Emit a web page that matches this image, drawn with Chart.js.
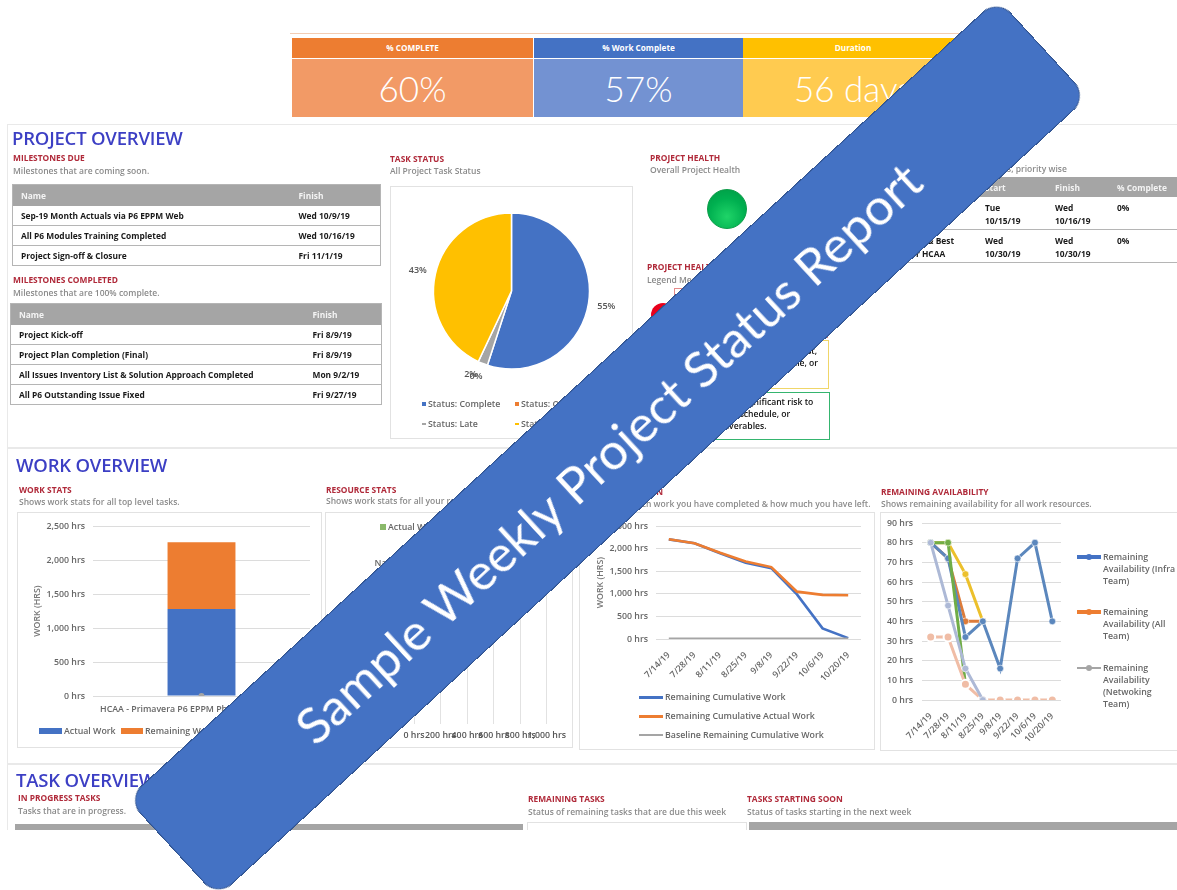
<!DOCTYPE html>
<html>
<head>
<meta charset="utf-8">
<title>Sample Weekly Project Status Report</title>
<script src="https://cdn.jsdelivr.net/npm/chart.js@4"></script>
<style>
html,body{margin:0;padding:0;background:#fff;overflow:hidden}
body{width:1177px;height:890px;position:relative;font-family:"Open Sans",sans-serif}
#page{position:absolute;left:0;top:0;width:1177px;height:830px;overflow:hidden;filter:blur(.6px)}
#page div,#page canvas,#page table{position:absolute}
.t{white-space:nowrap;line-height:12px;font-size:8.6px;color:#111;font-weight:600}
.h1{font-size:18.5px;line-height:22px;color:#3c3fc4;font-weight:600;white-space:nowrap;letter-spacing:-.2px}
.h2{font-size:8.4px;line-height:12px;color:#b02a3a;font-weight:700;white-space:nowrap}
.sub{font-size:8.5px;line-height:12px;color:#8a8a8a;font-weight:600;white-space:nowrap}
.lg{font-size:8.8px;line-height:12px;color:#666;font-weight:600;white-space:nowrap}
.box{border:1px solid #e2e2e2;background:#fff;box-sizing:border-box}
.rule{background:#e9e9e9}
.kh{color:#fff;font-size:8.2px;font-weight:700;text-align:center;line-height:20px;height:20px}
.kb{color:#fff;font-family:Lato,sans-serif;font-weight:300;font-size:35px;text-align:center;line-height:58px;height:58px}
table{border-collapse:collapse;table-layout:fixed;font-size:8.4px;font-weight:700;color:#1a1a1a}
table th{background:#a5a5a5;color:#f4f4f4;font-weight:700;text-align:left;padding:0 0 0 8px}
table td{padding:0 0 0 8px;border-bottom:1px solid #b5b5b5;white-space:nowrap}
#tblUp table{border-width:0 !important}
#tblUp td{vertical-align:top;padding-top:5px;line-height:12.7px;box-sizing:border-box}
#tblUp td:first-child{padding-left:50px}
#banner{position:absolute;left:16px;top:380.5px;width:1183px;height:134px;box-sizing:border-box;padding-right:6px;background:#4472c4;border:1px solid #2f528f;border-radius:20px;transform:rotate(-42.6deg);color:#fff;font-family:Lato,sans-serif;font-size:51px;line-height:140px;text-align:center;white-space:nowrap}
</style>
</head>
<body>
<div id="page">
  <div style="left:290px;top:33px;width:670px;height:1px;background:#f3cdb4"></div>
  <div class="kh" style="left:292px;top:38px;width:241px;background:#ed7d31">% COMPLETE</div>
  <div class="kb" style="left:292px;top:59px;width:241px;background:#f29a66">60%</div>
  <div class="kh" style="left:534px;top:38px;width:209px;background:#4472c4">% Work Complete</div>
  <div class="kb" style="left:534px;top:59px;width:209px;background:#7392d2">57%</div>
  <div class="kh" style="left:743px;top:38px;width:220px;background:#ffc000">Duration</div>
  <div class="kb" style="left:743px;top:59px;width:220px;background:#ffcb50">56 days</div>

  <div class="rule" style="left:7px;top:124px;width:1170px;height:1px"></div>
  <div class="rule" style="left:7px;top:124px;width:1px;height:706px"></div>
  <div class="rule" style="left:7px;top:447px;width:1170px;height:2px"></div>
  <div class="rule" style="left:7px;top:763px;width:1170px;height:2px"></div>

  <div class="h1" style="left:12px;top:127px">PROJECT OVERVIEW</div>
  <div class="h2" style="left:13px;top:152px">MILESTONES DUE</div>
  <div class="sub" style="left:13px;top:165px">Milestones that are coming soon.</div>
  <div id="tblDue"></div>
  <div class="h2" style="left:13px;top:274px">MILESTONES COMPLETED</div>
  <div class="sub" style="left:13px;top:287px">Milestones that are 100% complete.</div>
  <div id="tblDone"></div>

  <div class="h2" style="left:390px;top:153px">TASK STATUS</div>
  <div class="sub" style="left:390px;top:165px">All Project Task Status</div>
  <div class="box" style="left:390px;top:186px;width:243px;height:253px"></div>
  <canvas id="pieChart" width="241" height="251" style="left:391px;top:187px"></canvas>

  <div class="h2" style="left:650px;top:152px">PROJECT HEALTH</div>
  <div class="sub" style="left:650px;top:164px">Overall Project Health</div>
  <div style="left:707px;top:189px;width:40px;height:40px;border-radius:50%;background:radial-gradient(circle at 50% 70%,#1fd468 0,#00b050 55%,#009a45 100%);border:1px solid #0c9c48;box-sizing:border-box"></div>
  <div class="h2" style="left:647px;top:261px">PROJECT HEALTH LEGEND</div>
  <div class="sub" style="left:647px;top:274px">Legend Meaning</div>
  <div style="left:651px;top:303px;width:24px;height:24px;border-radius:50%;background:#e8001c"></div>
  <div style="left:674px;top:288px;width:154px;height:50px;border:1px solid #e58a8a;box-sizing:border-box;background:#fff"></div>
  <div style="left:674px;top:340px;width:155px;height:49px;border:1px solid #f0d668;box-sizing:border-box;background:#fff"></div>
  <div class="t" style="left:744px;top:345px">Some risk to cost,</div>
  <div class="t" style="left:744px;top:357px">time, schedule, or</div>
  <div style="left:674px;top:392px;width:156px;height:48px;border:1px solid #35b56f;box-sizing:border-box;background:#fff"></div>
  <div class="t" style="left:728px;top:396px">No significant risk to</div>
  <div class="t" style="left:718px;top:408px">cost, schedule, or</div>
  <div class="t" style="left:714px;top:420px">deliverables.</div>

  <div class="sub" style="left:946px;top:163px">Upcoming tasks, priority wise</div>
  <div id="tblUp"></div>

  <div class="h1" style="left:16px;top:454px">WORK OVERVIEW</div>
  <div class="h2" style="left:19px;top:484px">WORK STATS</div>
  <div class="sub" style="left:19px;top:496px">Shows work stats for all top level tasks.</div>
  <div class="box" style="left:17px;top:512px;width:305px;height:236px"></div>
  <canvas id="workChart" width="303" height="234" style="left:18px;top:513px"></canvas>

  <div class="h2" style="left:326px;top:484px">RESOURCE STATS</div>
  <div class="sub" style="left:326px;top:495px">Shows work stats for all your resources.</div>
  <div class="box" style="left:325px;top:512px;width:248px;height:236px"></div>
  <canvas id="resChart" width="246" height="234" style="left:326px;top:513px"></canvas>

  <div class="h2" style="left:583px;top:486px">WORK BURNDOWN</div>
  <div class="sub" style="left:580px;top:498px">Shows how much work you have completed &amp; how much you have left.</div>
  <div class="box" style="left:579px;top:512px;width:296px;height:238px"></div>
  <canvas id="burnChart" width="294" height="236" style="left:580px;top:513px"></canvas>

  <div class="h2" style="left:881px;top:486px">REMAINING AVAILABILITY</div>
  <div class="sub" style="left:881px;top:498px">Shows remaining availability for all work resources.</div>
  <div class="box" style="left:880px;top:512px;width:300px;height:239px"></div>
  <canvas id="availChart" width="297" height="237" style="left:881px;top:513px"></canvas>

  <div class="h1" style="left:16px;top:769px">TASK OVERVIEW</div>
  <div class="h2" style="left:18px;top:792px">IN PROGRESS TASKS</div>
  <div class="sub" style="left:18px;top:805px">Tasks that are in progress.</div>
  <div style="left:15px;top:824px;width:508px;height:6px;background:#a5a5a5"></div>
  <div class="h2" style="left:528px;top:793px">REMAINING TASKS</div>
  <div class="sub" style="left:528px;top:806px">Status of remaining tasks that are due this week</div>
  <div class="box" style="left:527px;top:822px;width:220px;height:12px"></div>
  <div class="h2" style="left:747px;top:793px">TASKS STARTING SOON</div>
  <div class="sub" style="left:747px;top:806px">Status of tasks starting in the next week</div>
  <div style="left:749px;top:822px;width:428px;height:8px;background:#a5a5a5"></div>
</div>
<div id="banner">Sample Weekly Project Status Report</div>

<script>
var dueRows = [
  ["Sep-19 Month Actuals via P6 EPPM Web", "Wed 10/9/19"],
  ["All P6 Modules Training Completed", "Wed 10/16/19"],
  ["Project Sign-off & Closure", "Fri 11/1/19"]
];
var doneRows = [
  ["Project Kick-off", "Fri 8/9/19"],
  ["Project Plan Completion (Final)", "Fri 8/9/19"],
  ["All Issues Inventory List & Solution Approach Completed", "Mon 9/2/19"],
  ["All P6 Outstanding Issue Fixed", "Fri 9/27/19"]
];
var upRows = [
  ["", "Tue<br>10/15/19", "Wed<br>10/16/19", "0%"],
  ["Practices & Best<br>Plan for HCAA", "Wed<br>10/30/19", "Wed<br>10/30/19", "0%"]
];

var statusNames = ["Status: Complete", "Status: On Schedule", "Status: Late", "Status: Future Task"];
var statusValues = [55, 0, 2, 43];
var statusColors = ["#4472c4", "#ed7d31", "#a5a5a5", "#ffc000"];

var workProject = ["HCAA - Primavera P6 EPPM Phase-1 Rollout Plan"];
var workActual = [1280];
var workRemaining = [985];
var workBaseline = [0];
var workTicks = [0, 500, 1000, 1500, 2000, 2500];

var resNames = ["Name", "", "", ""];
var resActual = [600, null, null, null];

var dates = ["7/14/19", "7/28/19", "8/11/19", "8/25/19", "9/8/19", "9/22/19", "10/6/19", "10/20/19"];
var burnWork = [2210, 2125, 1900, 1690, 1570, 990, 235, 20];
var burnActual = [2213, 2125, 1912, 1720, 1595, 1050, 978, 970];
var burnBaseline = [0, 0, 0, 0, 0, 0, 0, 0];

var availInfra = [80, 72, 32, 40, 16, 72, 80, 40];
var availAll = [80, 72, 40, 40, null, null, null, null];
var availNet = [80, 48, 16, 0, null, null, null, null];
var availYellow = [80, 80, 64, 40, null, null, null, null];
var availGreen = [80, 80, 8, null, null, null, null, null];
var availPink = [32, 32, 8, 0, 0, 0, 0, 0];

var page = document.getElementById("page");
Chart.defaults.font.family = "'Open Sans', sans-serif";
Chart.defaults.font.size = 8.8;
Chart.defaults.font.weight = 600;
Chart.defaults.color = "#666";
Chart.defaults.animation = false;
Chart.defaults.responsive = false;
Chart.defaults.plugins.legend.display = false;
Chart.defaults.plugins.tooltip.enabled = false;

function hrs(v) { return v.toLocaleString("en-US") + " hrs"; }

function table(host, x, y, widths, heads, rows, headH, rowH) {
  var html = '<table style="left:' + x + 'px;top:' + y + 'px;width:' + widths.reduce(function (a, b) { return a + b; }) + 'px;border:1px solid #b5b5b5"><colgroup>';
  widths.forEach(function (w) { html += '<col style="width:' + w + 'px">'; });
  html += '</colgroup><tr style="height:' + headH + 'px">';
  heads.forEach(function (h) { html += "<th>" + h + "</th>"; });
  html += "</tr>";
  rows.forEach(function (r) {
    html += '<tr style="height:' + rowH + 'px">';
    r.forEach(function (c) { html += "<td>" + String(c).replace(/& /g, "&amp; ") + "</td>"; });
    html += "</tr>";
  });
  document.getElementById(host).innerHTML = html + "</table>";
}
table("tblDue", 12, 184, [278, 90], ["Name", "Finish"], dueRows, 21, 20);
table("tblDone", 10, 303, [294, 77], ["Name", "Finish"], doneRows, 21, 20);
table("tblUp", 837, 177, [140, 70, 62, 68], ["Name", "Start", "Finish", "% Complete"], upRows, 20, 32.5);

// legend pieces are plain text + a small swatch
function legendItem(text, color, x, y, w, h, dot) {
  var s = document.createElement("div");
  s.style.cssText = "left:" + x + "px;top:" + (y - h / 2) + "px;width:" + w + "px;height:" + h + "px;background:" + color;
  page.appendChild(s);
  if (dot) {
    var d = document.createElement("div");
    d.style.cssText = "left:" + (x + w / 2 - 3) + "px;top:" + (y - 3) + "px;width:6px;height:6px;border-radius:50%;background:" + color;
    page.appendChild(d);
  }
  var t = document.createElement("div");
  t.className = "lg";
  t.style.left = (x + w + 2) + "px";
  t.style.top = (y - 6) + "px";
  t.innerHTML = text;
  page.appendChild(t);
}

var pieLabels = {
  id: "pieLabels",
  afterDatasetsDraw: function (chart) {
    var ctx = chart.ctx;
    ctx.save();
    ctx.font = "600 9px 'Open Sans'";
    ctx.fillStyle = "#555";
    ctx.textAlign = "center";
    ctx.textBaseline = "middle";
    chart.getDatasetMeta(0).data.forEach(function (arc, i) {
      var p = arc.getProps(["x", "y", "startAngle", "endAngle", "outerRadius"]);
      var a = (p.startAngle + p.endAngle) / 2;
      var small = statusValues[i] < 5;
      var r = p.outerRadius + (small ? 14 : 18);
      ctx.fillText(statusValues[i] + "%", p.x + Math.cos(a) * r - (small ? 7 : 0), p.y + Math.sin(a) * r - (small ? 2 : 0));
    });
    ctx.restore();
  }
};
new Chart(document.getElementById("pieChart"), {
  type: "pie",
  data: { labels: statusNames, datasets: [{ data: statusValues, backgroundColor: statusColors, borderColor: "#fff", borderWidth: 1.5 }] },
  options: { radius: 78, layout: { padding: { bottom: 43, top: 0 } } },
  plugins: [pieLabels]
});
legendItem(statusNames[0], statusColors[0], 422, 404, 4, 4);
legendItem(statusNames[1], statusColors[1], 515, 404, 4, 4);
legendItem(statusNames[2], statusColors[2], 422, 424, 4, 2);
legendItem(statusNames[3], statusColors[3], 515, 424, 4, 2);

function hrsScale(width, title) {
  return {
    min: 0, max: 2500,
    afterFit: function (s) { s.width = width; },
    afterBuildTicks: function (s) { s.ticks = workTicks.map(function (v) { return { value: v }; }); },
    grid: { color: "#dcdcdc", drawTicks: false },
    border: { display: false },
    ticks: { padding: 8, callback: hrs },
    title: { display: true, text: title, padding: 0, color: "#777" }
  };
}

new Chart(document.getElementById("workChart"), {
  data: {
    labels: workProject,
    datasets: [
      { type: "line", label: "Baseline Work", data: workBaseline, pointRadius: 3, pointBackgroundColor: "#a5a5a5", pointBorderColor: "#a5a5a5", borderWidth: 0 },
      { type: "bar", label: "Actual Work", data: workActual, backgroundColor: "#4472c4", stack: "w" },
      { type: "bar", label: "Remaining Work", data: workRemaining, backgroundColor: "#ed7d31", stack: "w" }
    ]
  },
  options: {
    layout: { padding: { top: 12, right: 11, bottom: 30, left: 14 } },
    scales: {
      x: { stacked: true, grid: { display: false }, border: { display: false }, ticks: { autoSkip: false, maxRotation: 0, padding: 0 }, afterFit: function (s) { s.height = 21; } },
      y: Object.assign(hrsScale(61, "WORK (HRS)"), { stacked: true })
    },
    datasets: { bar: { barPercentage: 0.313, categoryPercentage: 1 } }
  }
});
legendItem("Actual Work", "#4472c4", 39, 731, 23, 6);
legendItem("Remaining Work", "#ed7d31", 121, 731, 22, 6);

new Chart(document.getElementById("resChart"), {
  type: "bar",
  data: { labels: resNames, datasets: [{ label: "Actual Work", data: resActual, backgroundColor: "#70ad47" }] },
  options: {
    indexAxis: "y",
    layout: { padding: { top: 27, right: 14, bottom: 0 } },
    scales: {
      x: {
        min: 0, max: 1000,
        grid: { color: "#e2e2e2", drawTicks: false },
        border: { display: false },
        ticks: { stepSize: 200, maxRotation: 0, autoSkip: false, padding: 6, callback: hrs, color: "#555" },
        afterFit: function (s) { s.height = 23; }
      },
      y: { grid: { display: false }, border: { display: false }, ticks: { padding: 6 }, afterFit: function (s) { s.width = 88; } }
    }
  }
});
legendItem("Actual Work", "#8ab96a", 380, 527, 6, 6);

function dateScale() {
  return {
    offset: true,
    grid: { display: false },
    border: { display: false },
    ticks: { minRotation: 45, maxRotation: 45, autoSkip: false, padding: 3 }
  };
}

new Chart(document.getElementById("burnChart"), {
  type: "line",
  data: {
    labels: dates,
    datasets: [
      { label: "Remaining Cumulative Work", data: burnWork, borderColor: "#4472c4", borderWidth: 2.6, pointRadius: 0, tension: 0, order: 2 },
      { label: "Remaining Cumulative Actual Work", data: burnActual, borderColor: "#ed7d31", borderWidth: 2.6, pointRadius: 0, tension: 0, order: 1 },
      { label: "Baseline Remaining Cumulative Work", data: burnBaseline, borderColor: "#a5a5a5", borderWidth: 3, pointRadius: 0, tension: 0, order: 0 }
    ]
  },
  options: {
    layout: { padding: { top: 12, right: 13, bottom: 0, left: 15 } },
    scales: {
      x: Object.assign(dateScale(), { afterFit: function (s) { s.height = 110; } }),
      y: hrsScale(61, "WORK (HRS)")
    }
  }
});
legendItem("Remaining Cumulative Work", "#4472c4", 639, 697, 24, 3);
legendItem("Remaining Cumulative Actual Work", "#ed7d31", 639, 716, 24, 3);
legendItem("Baseline Remaining Cumulative Work", "#a5a5a5", 639, 735, 24, 2);

function availSet(label, data, color, extra) {
  return Object.assign({
    label: label, data: data, borderColor: color, backgroundColor: color,
    borderWidth: 3, pointRadius: 3.4, pointBackgroundColor: color,
    pointBorderColor: "#fff", pointBorderWidth: 0.6, tension: 0
  }, extra || {});
}
new Chart(document.getElementById("availChart"), {
  type: "line",
  data: {
    labels: dates,
    datasets: [
      availSet("Remaining Availability (Netwoking Team)", availNet, "#adb9d6"),
      availSet("Remaining Availability (Pale)", availPink, "#f0bda6", { pointBorderWidth: 2, pointRadius: 4.5 }),
      availSet("Remaining Availability (Green)", availGreen, "#70ad47"),
      availSet("Remaining Availability (Infra Team)", availInfra, "#5b87bd"),
      availSet("Remaining Availability (Yellow)", availYellow, "#ecc02c"),
      availSet("Remaining Availability (All Team)", availAll, "#dd7c3b")
    ]
  },
  options: {
    layout: { autoPadding: false, padding: { top: 10, right: 117, bottom: 0 } },
    scales: {
      x: Object.assign(dateScale(), { afterFit: function (s) { s.height = 50; } }),
      y: {
        min: 0, max: 90,
        // the rotated x labels push a big top padding onto this axis otherwise
        afterFit: function (s) { s.width = 41; s.paddingTop = 0; s.paddingBottom = 0; },
        grid: { color: "#dcdcdc", drawTicks: false },
        border: { display: false },
        ticks: { stepSize: 10, padding: 9, callback: function (v) { return v + " hrs"; } }
      }
    }
  }
});
legendItem("Remaining<br>Availability (Infra<br>Team)", "#4472c4", 1077, 557, 24, 4, true);
legendItem("Remaining<br>Availability (All<br>Team)", "#ed7d31", 1077, 612, 24, 4, true);
legendItem("Remaining<br>Availability<br>(Netwoking<br>Team)", "#a5a5a5", 1077, 668, 24, 2, true);
</script>
</body>
</html>
